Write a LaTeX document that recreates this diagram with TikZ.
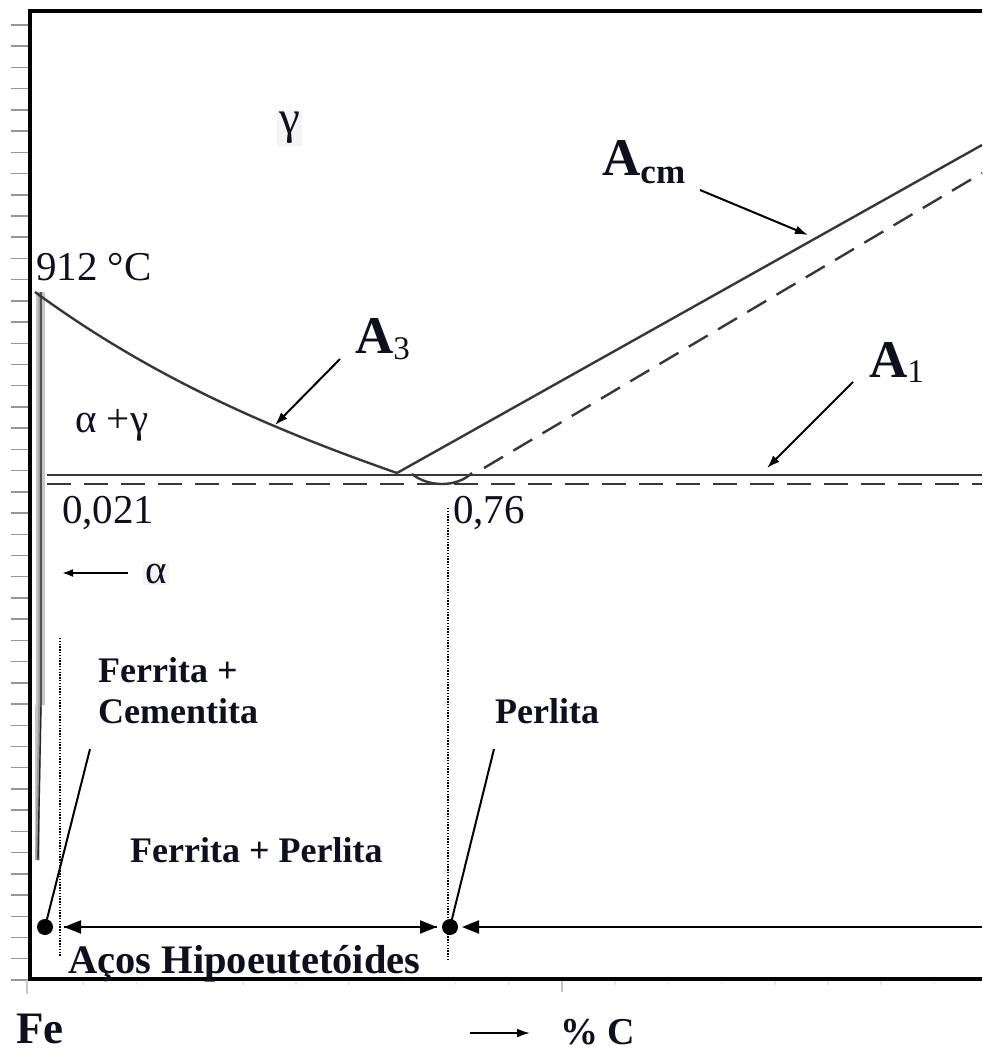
\documentclass[tikz,border=0pt]{standalone}
\usepackage{fontspec}
\setmainfont{Liberation Serif}
\usetikzlibrary{arrows.meta}
\newcommand\myfs[1]{\fontsize{#1}{#1}\selectfont}
\definecolor{ln}{RGB}{55,55,55}
\definecolor{tk}{RGB}{150,150,150}
\definecolor{txt}{RGB}{15,15,30}
\begin{document}
\begin{tikzpicture}[x=1pt,y=-1pt,
  curve/.style={line width=2.4pt, draw=ln},
  dashcurve/.style={line width=2.4pt, draw=ln, dash pattern=on 24pt off 13pt},
  dotline/.style={line width=1.2pt, dash pattern=on 1.4pt off 1.4pt},
  lbl/.style={anchor=base west, inner sep=0pt, text=txt, font=\myfs{41}},
  blbl/.style={anchor=base west, inner sep=0pt, text=txt, font=\myfs{36}\bfseries},
  albl/.style={anchor=base west, inner sep=0pt, text=txt, font=\myfs{53}\bfseries},
  ptr/.style={line width=2pt, -{Latex[length=13pt,width=9pt]}},
  dimarr/.style={line width=2pt},
  tip/.style={-{Triangle[length=17pt,width=13pt]}},
  bigdot/.style={circle, fill=black, minimum size=16pt, inner sep=0pt},
  greybox/.style={fill=gray!9}
]
\useasboundingbox (0,0) rectangle (982,1054);

% left axis ticks
\foreach \k in {0,...,45}
  \draw[tk, line width=1.5pt] (11,25+21.22*\k) -- (30,25+21.22*\k);
% bottom axis faint ticks
\foreach \k in {1,...,17}
  \draw[gray!18, line width=1.5pt] (30+53.2*\k,980) -- (30+53.2*\k,985);
\draw[gray!45, line width=2pt] (562,980) -- (562,992);
\draw[gray!45, line width=2pt] (27,980) -- (27,994);

% alpha solubility band
\draw[gray!45, line width=9pt] (40,292) -- (40,705);
\draw[gray!45, line width=5pt] (37,705) -- (37,860);
\draw[gray!75, line width=3.5pt] (40,292) -- (40,705) -- (37,860);
\draw[gray!30!black, line width=1.4pt] (41,292) -- (41,705) -- (38,860);

% frame
\draw[line width=3.5pt] (982,11) -- (30,11) -- (30,979) -- (982,979);

% phase boundaries
\coordinate (p912) at (35,292);
\coordinate (eut) at (397,473);
\draw[curve] (p912) .. controls (155,380) and (277,431) .. (eut);
\draw[curve] (47,475) -- (982,475);
\draw[dashcurve] (47,484) -- (982,484);
\draw[curve] (eut) -- (982,145);
\draw[curve] (412,474) .. controls (428,487) and (456,488) .. (472,473);
\draw[dashcurve, dash pattern=on 22pt off 12pt] (484,468) -- (982,173);

% vertical dotted guides
\draw[dotline] (60,638) -- (60,956);
\draw[dotline] (448,508) -- (448,960);

% texts
\node[lbl, greybox, inner sep=2pt, font=\myfs{47}] (gam) at (277,134) {γ};
\node[lbl] (t912) at (36,280) {912 °C};
\node[lbl] (ag) at (75,432) {α +γ};
\node[lbl] (c021) at (62,523) {0,021};
\node[lbl] (c076) at (453,523) {0,76};
\node[lbl, greybox, inner sep=2pt] (alf) at (143,583) {α};
\node[albl] (Acm) at (602,175) {A\raisebox{-8pt}{\myfs{35}cm}};
\node[albl] (A3) at (355,353) {A\raisebox{-6pt}{\myfs{33}\mdseries 3}};
\node[albl] (A1) at (869,377) {A\raisebox{-5pt}{\myfs{33}\mdseries 1}};
\node[blbl] (fc1) at (98,682) {Ferrita +};
\node[blbl] (fc2) at (98,723) {Cementita};
\node[blbl] (perl) at (495,723) {Perlita};
\node[blbl] (fp) at (130,862) {Ferrita + Perlita};
\node[blbl, font=\myfs{40.5}\bfseries] (hipo) at (68,973) {Aços Hipoeutetóides};
\node[blbl, font=\myfs{45}\bfseries] (fe) at (16,1043) {Fe};
\node[blbl, font=\myfs{38}\bfseries] (pc) at (560,1044) {\% C};

% pointer arrows
\coordinate (acmS) at (700,190); \coordinate (acmE) at (808,235);
\coordinate (a3S) at (340,359);  \coordinate (a3E) at (275,425);
\coordinate (a1S) at (853,382);  \coordinate (a1E) at (767,468);
\coordinate (alS) at (128,573);  \coordinate (alE) at (62,573);
\coordinate (pcS) at (470,1033); \coordinate (pcE) at (530,1033);
\draw[ptr] (acmS) -- (acmE);
\draw[ptr] (a3S) -- (a3E);
\draw[ptr] (a1S) -- (a1E);
\draw[ptr, -{Latex[length=11pt,width=8pt]}] (alS) -- (alE);
\draw[ptr] (pcS) -- (pcE);

% dots and steel ranges
\node[bigdot] (d1) at (45,927) {};
\node[bigdot] (d2) at (450,927) {};
\coordinate (fcP) at (90,749);
\coordinate (peP) at (494,749);
\draw[line width=2pt] (d1.center) -- (fcP);
\draw[line width=2pt] (d2.center) -- (peP);
\coordinate (hL) at (64,927); \coordinate (hR) at (437,927);
\coordinate (rR) at (982,927); \coordinate (rL) at (462,927);
\draw[dimarr, tip] (hL) -- (hR);
\draw[dimarr, tip] (hR) -- (hL);
\draw[dimarr, tip] (rR) -- (rL);
\end{tikzpicture}
\end{document}
